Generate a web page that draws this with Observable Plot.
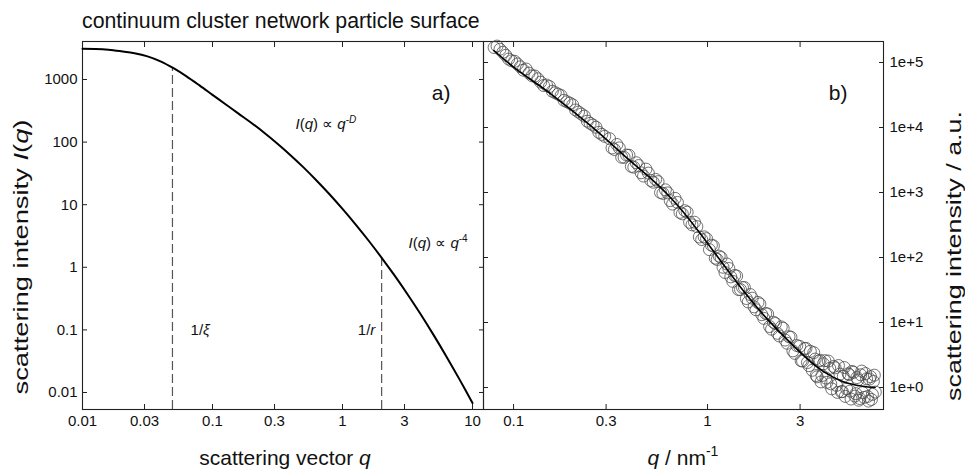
<!DOCTYPE html>
<html><head><meta charset="utf-8">
<script src="https://cdn.jsdelivr.net/npm/d3@7"></script>
<script src="https://cdn.jsdelivr.net/npm/@observablehq/plot@0.6"></script>
<style>
body{margin:0;background:#fff;font-family:"Liberation Sans",Arial,Helvetica,sans-serif;}
#wrap{position:relative;width:965px;height:475px;overflow:hidden;background:#fff;}
.panel{position:absolute;top:30px;}
#over{position:absolute;left:0;top:0;}
</style></head>
<body>
<div id="wrap">
<div id="left" class="panel" style="left:0;width:490px"></div>
<div id="right" class="panel" style="left:476px;width:489px"></div>
<svg id="over" width="965" height="475" font-family='"Liberation Sans", Arial, Helvetica, sans-serif' fill="#111">
  <text x="82" y="27.5" font-size="21.3">continuum cluster network particle surface</text>
  <text x="285" y="465" font-size="21" text-anchor="middle">scattering vector <tspan font-style="italic">q</tspan></text>
  <text x="683" y="465" font-size="21" text-anchor="middle"><tspan font-style="italic">q</tspan> / nm<tspan dy="-9" font-size="14">-1</tspan></text>
  <text transform="translate(28,257) rotate(-90)" font-size="21" text-anchor="middle" textLength="275" lengthAdjust="spacingAndGlyphs">scattering intensity <tspan font-style="italic">I</tspan>(<tspan font-style="italic">q</tspan>)</text>
  <text transform="translate(961,256) rotate(-90)" font-size="21" text-anchor="middle" textLength="290" lengthAdjust="spacingAndGlyphs">scattering intensity / a.u.</text>
</svg>
</div>
<script>
// ---------- data ----------
const xTicksL = [0.01, 0.03, 0.1, 0.3, 1, 3, 10];
const yTicksL = [0.01, 0.1, 1, 10, 100, 1000];
const xTicksR = [0.1, 0.3, 1, 3];
const yTicksR = [1, 10, 100, 1000, 10000, 100000];
const yLabelsR = ["1e+0", "1e+1", "1e+2", "1e+3", "1e+4", "1e+5"];

const xDomL = [0.01, 12.15];
const yDomL = [0.00535, 4046];
const xDomR = [0.07, 8.075];
const yDomR = [0.459, 210400];

// left panel: model curve
const curveQ = [0.01,0.01259,0.01585,0.01995,0.02512,0.03162,0.03981,0.05012,0.0631,0.07943,0.1,0.1259,0.1585,0.1995,0.2512,0.3162,0.3981,0.5012,0.631,0.7943,1,1.259,1.585,1.995,2.512,3.162,3.981,5.012,6.31,7.943,10];
const curveI = [3090,3070,2985,2818,2630,2344,1950,1514,1122,804,569,403,285,202,140,94.4,61.9,39.5,24.4,14.7,8.57,4.86,2.68,1.43,0.741,0.371,0.179,0.0832,0.0374,0.0162,0.00679];

// left panel: dashed markers 1/xi and 1/r
const markQ = [0.0492, 2.0];
const markTop = [1517, 1.42];

// right panel: measured points
const scatterQ = [0.0794,0.0851,0.0912,0.0977,0.1047,0.1122,0.1202,0.1288,0.138,0.1479,0.1585,0.1698,0.182,0.195,0.2089,0.2239,0.2399,0.257,0.2754,0.2951,
0.3126,0.3311,0.3508,0.3715,0.3936,0.4169,0.4416,0.4677,0.4955,0.5248,0.5559,0.5888,0.6237,0.6607,0.6998,0.7413,0.7852,0.8318,0.881,0.9333,0.9886,
1.047,1.096,1.148,1.202,1.259,1.318,1.38,1.445,1.514,1.585,1.66,1.738,1.82,1.905,1.995,2.089,2.188,2.291,2.399,2.512,2.63,2.754,2.884,
2.985,3.09,3.162,3.273,3.388,3.467,3.589,3.673,3.802,3.89,4.027,4.121,4.266,4.365,4.467,4.624,4.732,4.898,5.012,5.129,5.309,5.433,5.559,5.754,5.888,6.026,6.166,6.31,6.531,6.683,6.839,6.998,7.161,7.328];
const scatterI = [170000,160000,129000,106000,95000,76200,68700,61900,49900,45000,36100,32600,26200,23700,18600,16100,12500,10900,8410,7310,
6730,4590,4850,3470,3740,2450,2600,1790,1990,1440,1470,968,986,664,703,470,498,318,299,189,195,
155,97.7,105,70.8,79.4,50.4,53.0,32.1,34.5,23.4,26.9,17.4,20.4,13.2,13.8,8.67,10.1,6.82,8.55,5.37,6.05,3.66,4.43,
4.29,2.56,3.98,2.42,3.61,1.84,2.74,1.46,2.62,1.53,2.59,1.20,1.97,0.955,2.11,1.08,2.18,0.861,1.48,0.730,1.63,0.882,1.77,0.738,1.42,0.637,1.57,0.832,1.64,0.729,1.35,0.655,1.24,0.851];
const scatterQ2 = [0.0822,0.0881,0.0944,0.1012,0.1084,0.1161,0.1245,0.1334,0.1429,0.1531,0.1641,0.1758,0.1884,0.2018,0.2163,0.2317,0.2483,0.2661,0.2851,
0.3218,0.3408,0.361,0.3825,0.4051,0.4291,0.4546,0.4815,0.5101,0.5402,0.5723,0.6063,0.6422,0.6803,0.7206,0.7633,0.8084,0.8564,0.9068,0.9605,
1.023,1.072,1.122,1.175,1.23,1.288,1.349,1.413,1.479,1.549,1.622,1.698,1.778,1.862,1.95,2.042,2.138,2.239,2.344,2.455,2.57,2.692,2.818,
3.038,3.218,3.331,3.528,3.631,3.737,3.846,3.959,4.074,4.194,4.315,4.545,4.677,4.814,4.955,5.07,5.218,5.37,5.495,5.655,5.821,5.957,6.095,6.237,6.421,6.607,6.761,6.918,7.079,7.244];
const scatterI2 = [179000,143700,112900,104500,85900,79400,62400,56200,44200,42700,34300,31000,24900,22300,17300,15000,11600,10100,7830,
4840,5480,3490,3770,2520,2870,2010,2290,1530,1590,1000,1100,749,813,495,525,348,349,207,208,
132,151,93.3,100,58.9,67.8,43.0,51.9,32.1,34.6,20.7,23.7,15.7,19.3,11.6,13.5,7.89,9.66,6.21,8.15,4.80,5.93,3.35,
2.58,4.00,2.17,3.44,1.53,2.55,1.22,2.32,1.40,2.55,1.14,2.01,0.841,1.61,0.866,2.03,0.951,1.58,0.664,1.71,0.804,1.31,0.677,1.79,0.705,1.36,0.618,1.47,0.784,1.55];

// right panel: fit line
const fitQ = [0.0791,0.1,0.1585,0.2512,0.3981,0.5012,0.631,0.7943,1,1.259,1.585,1.995,2.512,3.162,3.981,5.012,6.31,7.3];
const fitI = [153000,85100,31600,10500,3090,1720,891,407,166,66.1,26.9,12.0,5.89,3.02,1.74,1.23,1.047,1.0];

// annotations
const annotL = [
  {q: 0.435, I: 191, t: "LAW_D", a: "start"},
  {q: 3.22, I: 2.4, t: "LAW_4", a: "start"},
  {q: 0.0678, I: 0.1, t: "INV_XI", a: "start"},
  {q: 1.79, I: 0.1, t: "INV_R", a: "end"}
];

// ---------- build ----------
const FONT = '"Liberation Sans", Arial, Helvetica, sans-serif';
const zip = (a, b, kx, ky) => a.map((v, i) => ({[kx]: v, [ky]: b[i]}));
const curve = zip(curveQ, curveI, "q", "I");
const marks = zip(markQ, markTop, "q", "top");
const scatter = zip(scatterQ, scatterI, "q", "I").concat(zip(scatterQ2, scatterI2, "q", "I"));
const fit = zip(fitQ, fitI, "q", "I");
const AX = "#222";
const blank = () => "";

function frameAxes(xt, yt) {
  return [
    Plot.frame({stroke: AX, strokeWidth: 1.1}),
    Plot.axisX(xt, {anchor: "bottom", tickSize: 5, dy: -5, tickFormat: blank, label: null, stroke: AX}),
    Plot.axisX(xt, {anchor: "top", tickSize: 5, dy: 5, tickFormat: blank, label: null, stroke: AX}),
    Plot.axisY(yt, {anchor: "left", tickSize: 5, dx: 5, tickFormat: blank, label: null, stroke: AX}),
    Plot.axisY(yt, {anchor: "right", tickSize: 5, dx: -5, tickFormat: blank, label: null, stroke: AX}),
    Plot.text(xt, {x: d => d, frameAnchor: "bottom", dy: 16, text: d => String(d), fontSize: 15, fill: "#111"})
  ];
}

const left = Plot.plot({
  width: 490, height: 445,
  marginLeft: 82, marginRight: 7, marginTop: 11, marginBottom: 66,
  x: {type: "log", domain: xDomL},
  y: {type: "log", domain: yDomL},
  style: {fontFamily: FONT, fontSize: "15px", color: "#111", background: "transparent", overflow: "visible"},
  marks: [
    ...frameAxes(xTicksL, yTicksL),
    Plot.text(yTicksL, {y: d => d, frameAnchor: "left", dx: -5, textAnchor: "end", text: d => String(d), fontSize: 15, fill: "#111"}),
    Plot.ruleX(marks, {x: "q", y1: () => yDomL[0], y2: "top", stroke: "#555", strokeWidth: 1.2, strokeDasharray: "9,4"}),
    Plot.line(curve, {x: "q", y: "I", stroke: "#000", strokeWidth: 2, curve: "catmull-rom"}),
    Plot.text(annotL, {x: "q", y: "I", text: "t", textAnchor: "start", fontSize: 15, filter: d => d.a === "start"}),
    Plot.text(annotL, {x: "q", y: "I", text: "t", textAnchor: "end", fontSize: 15, filter: d => d.a === "end"}),
    Plot.text(["a)"], {frameAnchor: "top-right", dx: -33, dy: 44, fontSize: 21})
  ]
});

const labR = new Map(yTicksR.map((v, i) => [v, yLabelsR[i]]));
const right = Plot.plot({
  width: 489, height: 445,
  marginLeft: 7, marginRight: 82, marginTop: 11, marginBottom: 66,
  x: {type: "log", domain: xDomR},
  y: {type: "log", domain: yDomR},
  style: {fontFamily: FONT, fontSize: "15px", color: "#111", background: "transparent", overflow: "visible"},
  marks: [
    ...frameAxes(xTicksR, yTicksR),
    Plot.text(yTicksR, {y: d => d, frameAnchor: "right", dx: 6, textAnchor: "start", text: d => labR.get(d), fontSize: 15, fill: "#111"}),
    Plot.dot(scatter, {x: "q", y: "I", r: 6, stroke: "#444", strokeWidth: 0.75, fill: "none"}),
    Plot.line(fit, {x: "q", y: "I", stroke: "#000", strokeWidth: 1.6, curve: "catmull-rom"}),
    Plot.text(["b)"], {frameAnchor: "top-right", dx: -36, dy: 44, fontSize: 21})
  ]
});

document.getElementById("left").appendChild(left);
document.getElementById("right").appendChild(right);

// rich text (italics / superscripts) for annotations
const rich = {
  LAW_D: '<tspan font-style="italic">I</tspan>(<tspan font-style="italic">q</tspan>) \u221D <tspan font-style="italic">q</tspan><tspan dy="-6" font-size="10">-</tspan><tspan font-size="10" font-style="italic">D</tspan>',
  LAW_4: '<tspan font-style="italic">I</tspan>(<tspan font-style="italic">q</tspan>) \u221D <tspan font-style="italic">q</tspan><tspan dy="-6" font-size="10">-4</tspan>',
  INV_XI: '1/<tspan font-style="italic">\u03BE</tspan>',
  INV_R: '1/<tspan font-style="italic">r</tspan>'
};
left.querySelectorAll("text").forEach(el => {
  const k = el.textContent;
  if (rich[k]) el.innerHTML = rich[k];
});
</script>
</body></html>
